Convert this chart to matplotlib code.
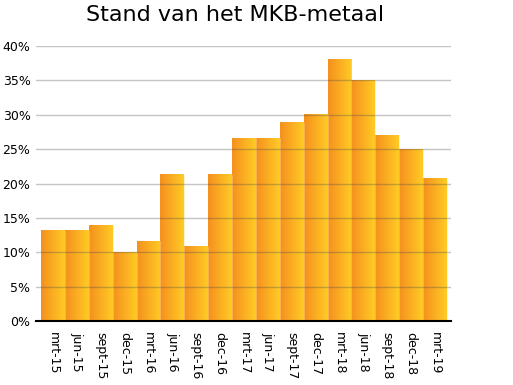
import matplotlib

matplotlib.use("Agg")
import matplotlib.pyplot as plt
import numpy as np
from matplotlib.colors import LinearSegmentedColormap
from matplotlib.ticker import FuncFormatter

labels = ["mrt-15", "jun-15", "sept-15", "dec-15", "mrt-16", "jun-16", "sept-16", "dec-16",
          "mrt-17", "jun-17", "sept-17", "dec-17", "mrt-18", "jun-18", "sept-18", "dec-18", "mrt-19"]
values = [13.1, 13.1, 13.9, 10.0, 11.6, 21.3, 10.8, 21.3,
          26.6, 26.6, 28.8, 30.1, 38.0, 35.0, 27.0, 25.0, 20.7]

grad = LinearSegmentedColormap.from_list("bar", ["#f5901f", "#ffcb25"])

fig = plt.figure(figsize=(5.13, 3.85), dpi=100)
ax = fig.add_axes([0.0702, 0.1662, 0.809, 0.7143])

x = np.arange(len(values))
bars = ax.bar(x, values, width=1.0, color="none", edgecolor="none")
ramp = np.linspace(0, 1, 64).reshape(1, -1)
for b in bars:
    x0, y0, w, h = b.get_x(), b.get_y(), b.get_width(), b.get_height()
    ax.imshow(ramp, cmap=grad, aspect="auto", extent=(x0, x0 + w, y0, y0 + h),
              interpolation="bicubic", zorder=2)
    # faint light edge between bars
    ax.plot([x0 + w, x0 + w], [0, h], color="#ffe08a", lw=0.5, alpha=0.6, zorder=2.5)

ax.set_xlim(-0.71, 16.67)
ax.set_ylim(0, 40)
ax.set_yticks(np.arange(0, 41, 5))
ax.yaxis.set_major_formatter(FuncFormatter(lambda v, p: f"{v:.0f}%"))
for yv in np.arange(5, 41, 5):
    ax.axhline(yv, color="#4a4a4a", lw=1.0, alpha=0.32, zorder=3)

ax.set_xticks(x)
ax.set_xticklabels(labels, rotation=270, fontsize=9, va="top", ha="center")
ax.tick_params(axis="y", length=0, labelsize=9, pad=4)
ax.tick_params(axis="x", length=0, pad=8)
for s in ("top", "right", "left"):
    ax.spines[s].set_visible(False)
ax.spines["bottom"].set_linewidth(1.5)
ax.spines["bottom"].set_zorder(4)

fig.text(0.458, 0.96, "Stand van het MKB-metaal", fontsize=16, ha="center", va="center")

fig.savefig("out.png", dpi=100)
